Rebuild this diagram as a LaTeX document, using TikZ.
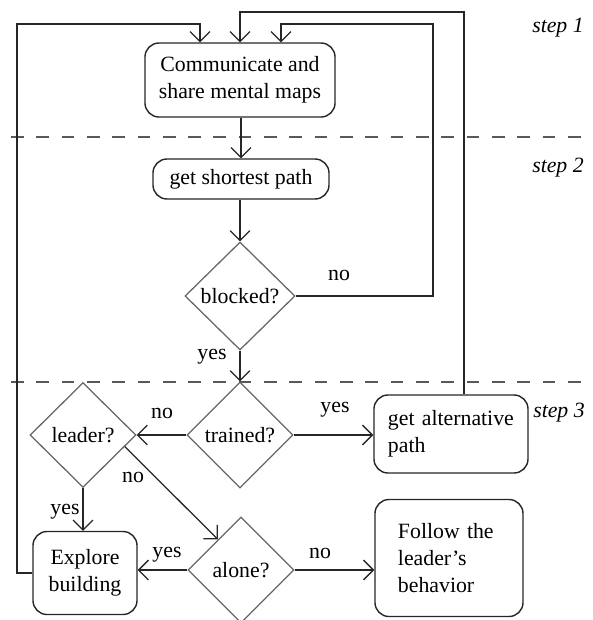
\documentclass[tikz,border=0pt]{standalone}
\usepackage{fontspec}
\setmainfont{Liberation Serif}
\usetikzlibrary{arrows.meta, shapes.geometric, calc}

\begin{document}
\begin{tikzpicture}[x=0.025cm, y=-0.025cm,
  >={Straight Barb[length=7pt,width=14pt]},
  every node/.style={font=\fontsize{15.5}{19.2}\selectfont},
  conn/.style={draw=black!85, line width=0.9pt},
  box/.style={draw=black!85, line width=1pt, rounded corners=10pt, inner sep=0pt},
  decision/.style={diamond, draw=black!60, line width=0.9pt, inner sep=0pt},
  steplabel/.style={font=\fontsize{15.5}{19.2}\selectfont\itshape},
  phase/.style={draw=black!65, line width=1.4pt, dash pattern=on 9pt off 9pt}]
  \useasboundingbox (0,0) rectangle (593,620);

  % phase borders
  \draw[phase] (11,137) -- (585,137);
  \draw[phase] (11,382) -- (585,382);
  \node[steplabel] (s1) at (558,28) {step 1};
  \node[steplabel] (s2) at (558,168) {step 2};
  \node[steplabel] (s3) at (559,413) {step 3};

  % steps and decisions
  \node[box, minimum width=4.75cm, minimum height=1.85cm, align=center] (comm) at (240,80)
    {Communicate and\\share mental maps};
  \node[box, minimum width=4.4cm, minimum height=1.0cm] (shortest) at (241,179) {get shortest path};
  \node[decision, minimum width=2.75cm, minimum height=2.7cm] (blocked) at (240,296) {blocked?};
  \node[decision, minimum width=2.65cm, minimum height=2.65cm] (trained) at (240,435) {trained?};
  \node[decision, minimum width=2.65cm, minimum height=2.62cm] (leader) at (83,435) {leader?};
  \node[decision, minimum width=2.65cm, minimum height=2.65cm] (alone) at (241,570) {alone?};
  \node[box, minimum width=3.85cm, minimum height=1.95cm, text width=3.15cm, inner xsep=0.35cm,
    align=left] (alt) at (451,434) {get alternative\\path};
  \node[box, minimum width=2.6cm, minimum height=2.075cm, align=center] (explore) at (85,573)
    {Explore\\building};
  \node[box, minimum width=3.7cm, minimum height=2.925cm, text width=2.55cm, inner xsep=0.575cm,
    align=left] (follow) at (449,558) {Follow the\\leader's\\behavior};

  % loop corners
  \coordinate (ltop) at (17,24);
  \coordinate (mtop) at (464,12);
  \coordinate (rtop) at (433,24);

  % connectors
  \draw[conn, ->] (comm.south -| shortest.north) -- (shortest.north);
  \draw[conn, ->] (shortest.south -| blocked.north) -- (blocked.north);
  \draw[conn, ->] (blocked.south) -- (trained.north);
  \draw[conn, ->] (blocked.east) -| (rtop) -| ($(comm.north)+(41,0)$);
  \draw[conn, ->] (alt.north -| mtop) -- (mtop) -| (comm.north);
  \draw[conn, ->] (explore.west) -| (ltop) -| ($(comm.north)+(-40,0)$);
  \draw[conn, ->] (trained.west) -- (leader.east);
  \draw[conn, ->] (trained.east) -- (alt.west |- trained.east);
  \draw[conn, ->] (leader.south) -- (leader.south |- explore.north);
  \draw[conn, ->] ($(leader.east)!0.22!(leader.south)$) -- ($(alone.west)!0.57!(alone.north)$);
  \draw[conn, ->] (alone.west) -- (alone.west -| explore.east);
  \draw[conn, ->] (alone.east) -- (alone.east -| follow.west);

  % answers
  \node (lno1) at (339,275) {no};
  \node (lyes1) at (212,357) {yes};
  \node (lno2) at (162,413) {no};
  \node (lyes2) at (335,410) {yes};
  \node (lno3) at (133,477) {no};
  \node (lyes3) at (65,512) {yes};
  \node (lyes4) at (167,555) {yes};
  \node (lno4) at (320,553) {no};
\end{tikzpicture}
\end{document}
